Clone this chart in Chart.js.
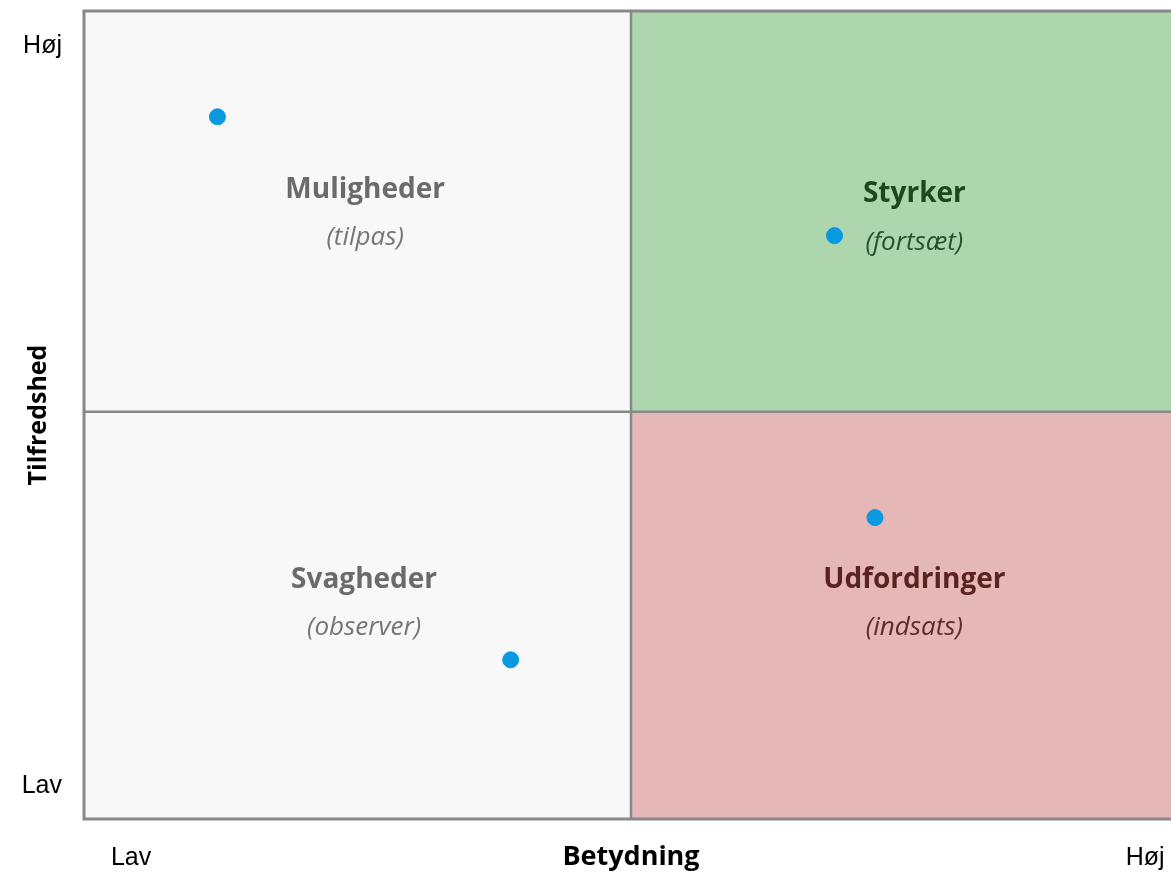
<!DOCTYPE html>
<html>
<head>
<meta charset="utf-8">
<script src="https://cdn.jsdelivr.net/npm/chart.js@4.4.1/dist/chart.umd.min.js"></script>
<style>
    html, body { margin: 0; padding: 0; background: #fff; overflow: hidden; }
    #wrap { width: 1180px; height: 874px; }
</style>
</head>
<body>
<div id="wrap"><canvas id="matrix" width="1180" height="874"></canvas></div>
<script>
// Data
const betydning = [1.22, 6.86, 7.23, 3.90];
const tilfredshed = [8.69, 7.22, 3.73, 1.97];

const xTickValues = [0.43, 9.70];
const xTickLabels = ['Lav', 'Høj'];
const yTickValues = [0.41, 9.56];
const yTickLabels = ['Lav', 'Høj'];

const quadrantTitles = ['Muligheder', 'Styrker', 'Svagheder', 'Udfordringer'];
const quadrantHints = ['(tilpas)', '(fortsæt)', '(observer)', '(indsats)'];

const xSplit = 5;
const ySplit = 5.04;

const FONT = "'Open Sans', 'Noto Sans', sans-serif";
const TICK_FONT = "'Liberation Sans', Arial, sans-serif";

// no extra edge padding for the tick labels
function noEdgePadding(s) {
    s.paddingTop = 0;
    s.paddingBottom = 0;
    s.paddingLeft = 0;
    s.paddingRight = 0;
}

// Quadrant background, dividers and labels
const quadrantPlugin = {
    id: 'quadrants',
    beforeDatasetsDraw(chart) {
        const { ctx, chartArea: a, scales: { x, y } } = chart;
        const mx = x.getPixelForValue(xSplit);
        const my = y.getPixelForValue(ySplit);

        ctx.save();
        ctx.fillStyle = '#f8f8f8';
        ctx.fillRect(a.left, a.top, mx - a.left, a.bottom - a.top);
        ctx.fillStyle = '#add5ae';
        ctx.fillRect(mx, a.top, a.right - mx, my - a.top);
        ctx.fillStyle = '#e5b7b7';
        ctx.fillRect(mx, my, a.right - mx, a.bottom - my);

        ctx.strokeStyle = '#888888';
        ctx.lineWidth = 2.5;
        ctx.beginPath();
        ctx.moveTo(mx, a.top);
        ctx.lineTo(mx, a.bottom);
        ctx.moveTo(a.left, my);
        ctx.lineTo(a.right, my);
        ctx.stroke();
        ctx.lineWidth = 3;
        ctx.strokeRect(a.left, a.top, a.right - a.left, a.bottom - a.top);

        const spots = [
            { x: 2.57, y: 7.79, c: '#6b6b6b', h: '#767676' },
            { x: 7.59, y: 7.73, c: '#1e471f', h: '#2a4f2a' },
            { x: 2.56, y: 2.96, c: '#6b6b6b', h: '#767676' },
            { x: 7.59, y: 2.96, c: '#5a2222', h: '#5f2a2a' }
        ];
        ctx.textAlign = 'center';
        ctx.textBaseline = 'middle';
        spots.forEach((s, i) => {
            const px = x.getPixelForValue(s.x);
            const py = y.getPixelForValue(s.y);
            ctx.fillStyle = s.c;
            ctx.font = `bold 28px ${FONT}`;
            ctx.fillText(quadrantTitles[i], px, py);
            ctx.fillStyle = s.h;
            ctx.font = `italic 26px ${FONT}`;
            ctx.fillText(quadrantHints[i], px, py + 48);
        });
        ctx.restore();
    }
};

const ctx = document.getElementById('matrix').getContext('2d');
new Chart(ctx, {
    type: 'scatter',
    data: {
        datasets: [{
            data: betydning.map((v, i) => ({ x: v, y: tilfredshed[i] })),
            backgroundColor: '#0a98de',
            borderColor: '#0a98de',
            pointRadius: 8,
            pointHoverRadius: 8
        }]
    },
    options: {
        responsive: false,
        animation: false,
        layout: { autoPadding: false, padding: { top: 11, right: 2, left: 0, bottom: 0 } },
        plugins: { legend: { display: false }, tooltip: { enabled: false } },
        scales: {
            x: {
                min: 0,
                max: 10,
                afterBuildTicks: s => { s.ticks = xTickValues.map(v => ({ value: v })); },
                afterFit: s => { s.height = 55; noEdgePadding(s); },
                grid: { display: false, drawTicks: false },
                border: { display: false },
                ticks: {
                    padding: 24,
                    autoSkip: false,
                    maxRotation: 0,
                    color: '#000',
                    font: { family: TICK_FONT, size: 25 },
                    callback: (v, i) => xTickLabels[i]
                },
                title: {
                    display: true,
                    text: 'Betydning',
                    color: '#000',
                    padding: 0,
                    font: { family: FONT, size: 27, weight: 'bold' }
                }
            },
            y: {
                min: 0,
                max: 10,
                afterBuildTicks: s => { s.ticks = yTickValues.map(v => ({ value: v })); },
                afterFit: s => { s.width = 84; noEdgePadding(s); },
                grid: { display: false, drawTicks: false },
                border: { display: false },
                ticks: {
                    padding: 22,
                    autoSkip: false,
                    color: '#000',
                    font: { family: TICK_FONT, size: 25 },
                    callback: (v, i) => yTickLabels[i]
                },
                title: {
                    display: true,
                    text: 'Tilfredshed',
                    color: '#000',
                    padding: { top: 24, bottom: 0 },
                    font: { family: FONT, size: 25, weight: 'bold' }
                }
            }
        }
    },
    plugins: [quadrantPlugin]
});
</script>
</body>
</html>
